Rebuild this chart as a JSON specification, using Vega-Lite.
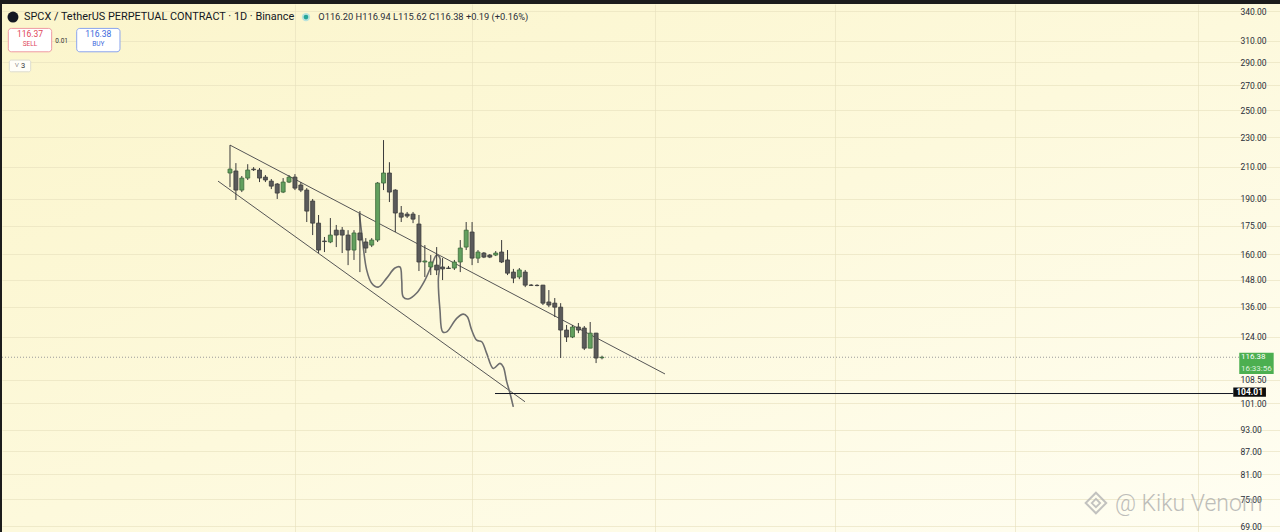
{
  "$schema": "https://vega.github.io/schema/vega-lite/v6.json",
  "width": 1278,
  "height": 528,
  "autosize": {"type": "none"},
  "padding": {"left": 2, "top": 4, "right": 0, "bottom": 0},
  "background": "#1c1c1c",
  "config": {
    "view": {
      "stroke": null,
      "fill": {
        "gradient": "linear", "x1": 0, "y1": 0, "x2": 1, "y2": 1,
        "stops": [
          {"offset": 0, "color": "#fbf5cb"},
          {"offset": 0.5, "color": "#fdf9dc"},
          {"offset": 1, "color": "#fffef3"}
        ]
      }
    },
    "text": {"font": "Roboto"}
  },
  "datasets": {
    "candles": [
      {"i": 0, "o": 205.9, "h": 224.5, "l": 197.1, "c": 208.4},
      {"i": 1, "o": 207.2, "h": 212.3, "l": 189.4, "c": 195.3},
      {"i": 2, "o": 195.3, "h": 204.0, "l": 194.1, "c": 202.7},
      {"i": 3, "o": 202.7, "h": 211.6, "l": 201.5, "c": 207.8},
      {"i": 4, "o": 208.4, "h": 209.7, "l": 207.2, "c": 208.0},
      {"i": 5, "o": 207.8, "h": 209.1, "l": 200.2, "c": 202.7},
      {"i": 6, "o": 203.3, "h": 204.6, "l": 200.2, "c": 201.5},
      {"i": 7, "o": 200.8, "h": 202.1, "l": 195.9, "c": 197.7},
      {"i": 8, "o": 199.0, "h": 199.6, "l": 190.0, "c": 193.5},
      {"i": 9, "o": 194.1, "h": 202.7, "l": 193.5, "c": 200.2},
      {"i": 10, "o": 200.2, "h": 204.6, "l": 199.6, "c": 203.3},
      {"i": 11, "o": 203.3, "h": 205.2, "l": 195.3, "c": 196.5},
      {"i": 12, "o": 198.4, "h": 200.2, "l": 194.1, "c": 195.3},
      {"i": 13, "o": 195.3, "h": 196.5, "l": 176.9, "c": 183.0},
      {"i": 14, "o": 188.8, "h": 190.0, "l": 169.9, "c": 176.3},
      {"i": 15, "o": 176.3, "h": 180.8, "l": 160.7, "c": 162.2},
      {"i": 16, "o": 166.8, "h": 168.9, "l": 161.2, "c": 166.5},
      {"i": 17, "o": 166.3, "h": 179.1, "l": 165.7, "c": 169.9},
      {"i": 18, "o": 172.5, "h": 175.3, "l": 163.7, "c": 169.9},
      {"i": 19, "o": 172.5, "h": 174.2, "l": 160.7, "c": 169.9},
      {"i": 20, "o": 169.9, "h": 172.5, "l": 154.8, "c": 162.2},
      {"i": 21, "o": 162.2, "h": 172.5, "l": 157.3, "c": 171.0},
      {"i": 22, "o": 171.0, "h": 183.0, "l": 151.5, "c": 167.3},
      {"i": 23, "o": 166.3, "h": 168.3, "l": 160.7, "c": 163.2},
      {"i": 24, "o": 164.7, "h": 168.3, "l": 163.7, "c": 167.3},
      {"i": 25, "o": 167.3, "h": 200.2, "l": 166.3, "c": 199.6},
      {"i": 26, "o": 199.6, "h": 228.0, "l": 195.3, "c": 205.9},
      {"i": 27, "o": 205.9, "h": 212.9, "l": 188.2, "c": 194.1},
      {"i": 28, "o": 195.3, "h": 195.8, "l": 171.5, "c": 181.9},
      {"i": 29, "o": 181.9, "h": 185.9, "l": 176.9, "c": 179.6},
      {"i": 30, "o": 181.3, "h": 182.5, "l": 179.1, "c": 180.2},
      {"i": 31, "o": 181.3, "h": 182.5, "l": 176.3, "c": 178.5},
      {"i": 32, "o": 175.8, "h": 180.8, "l": 152.0, "c": 156.3},
      {"i": 33, "o": 156.3, "h": 164.7, "l": 149.2, "c": 156.8},
      {"i": 34, "o": 153.9, "h": 159.7, "l": 150.1, "c": 156.3},
      {"i": 35, "o": 154.8, "h": 163.7, "l": 150.1, "c": 152.5},
      {"i": 36, "o": 153.9, "h": 158.2, "l": 147.8, "c": 153.0},
      {"i": 37, "o": 153.4, "h": 154.4, "l": 153.0, "c": 153.2},
      {"i": 38, "o": 153.4, "h": 157.3, "l": 152.5, "c": 156.3},
      {"i": 39, "o": 156.3, "h": 167.3, "l": 151.5, "c": 163.2},
      {"i": 40, "o": 163.7, "h": 176.9, "l": 162.2, "c": 172.5},
      {"i": 41, "o": 171.5, "h": 176.9, "l": 154.8, "c": 158.2},
      {"i": 42, "o": 158.2, "h": 162.2, "l": 155.8, "c": 161.2},
      {"i": 43, "o": 160.7, "h": 161.2, "l": 158.2, "c": 158.7},
      {"i": 44, "o": 159.7, "h": 160.2, "l": 158.2, "c": 158.7},
      {"i": 45, "o": 159.7, "h": 161.7, "l": 159.2, "c": 160.7},
      {"i": 46, "o": 161.2, "h": 167.3, "l": 155.8, "c": 156.3},
      {"i": 47, "o": 157.3, "h": 162.2, "l": 150.1, "c": 151.0},
      {"i": 48, "o": 151.5, "h": 153.0, "l": 146.4, "c": 148.7},
      {"i": 49, "o": 149.2, "h": 153.4, "l": 148.2, "c": 152.5},
      {"i": 50, "o": 151.5, "h": 152.5, "l": 144.6, "c": 145.5},
      {"i": 51, "o": 145.5, "h": 146.0, "l": 145.1, "c": 145.4},
      {"i": 52, "o": 145.4, "h": 145.9, "l": 145.0, "c": 145.3},
      {"i": 53, "o": 145.5, "h": 145.6, "l": 136.8, "c": 137.6},
      {"i": 54, "o": 138.1, "h": 143.3, "l": 135.9, "c": 136.8},
      {"i": 55, "o": 137.6, "h": 139.8, "l": 131.8, "c": 135.9},
      {"i": 56, "o": 135.9, "h": 137.6, "l": 116.1, "c": 126.6},
      {"i": 57, "o": 126.6, "h": 128.6, "l": 122.0, "c": 123.9},
      {"i": 58, "o": 123.9, "h": 128.6, "l": 123.5, "c": 127.8},
      {"i": 59, "o": 127.8, "h": 129.4, "l": 125.4, "c": 126.6},
      {"i": 60, "o": 127.4, "h": 128.2, "l": 119.0, "c": 119.7},
      {"i": 61, "o": 119.7, "h": 129.8, "l": 119.7, "c": 125.4},
      {"i": 62, "o": 125.4, "h": 125.5, "l": 114.3, "c": 116.1},
      {"i": 63, "o": 116.2, "h": 116.94, "l": 115.62, "c": 116.38}
    ],
    "trend": [
      {"line": "upper", "i": 0, "p": 224.5},
      {"line": "upper", "i": 73.67, "p": 110.5},
      {"line": "lower", "i": -2.03, "p": 200.8},
      {"line": "lower", "i": 49.96, "p": 101.4}
    ],
    "curve": [
      {"k": 0, "i": 21.9, "p": 181.7},
      {"k": 1, "i": 22.3, "p": 171.0},
      {"k": 2, "i": 23.15, "p": 152.5},
      {"k": 3, "i": 24.0, "p": 146.4},
      {"k": 4, "i": 25.11, "p": 144.6},
      {"k": 5, "i": 26.54, "p": 148.7},
      {"k": 6, "i": 27.94, "p": 153.4},
      {"k": 7, "i": 28.79, "p": 153.9},
      {"k": 8, "i": 29.08, "p": 147.8},
      {"k": 9, "i": 29.35, "p": 140.2},
      {"k": 10, "i": 30.19, "p": 139.4},
      {"k": 11, "i": 31.62, "p": 142.0},
      {"k": 12, "i": 33.02, "p": 147.8},
      {"k": 13, "i": 34.16, "p": 154.8},
      {"k": 14, "i": 35.0, "p": 159.7},
      {"k": 15, "i": 35.56, "p": 158.2},
      {"k": 16, "i": 35.28, "p": 147.8},
      {"k": 17, "i": 35.56, "p": 134.7},
      {"k": 18, "i": 36.02, "p": 125.9},
      {"k": 19, "i": 36.7, "p": 125.9},
      {"k": 20, "i": 38.39, "p": 131.3},
      {"k": 21, "i": 39.51, "p": 133.0},
      {"k": 22, "i": 40.19, "p": 131.9},
      {"k": 23, "i": 40.93, "p": 126.6},
      {"k": 24, "i": 41.78, "p": 122.7},
      {"k": 25, "i": 42.63, "p": 122.1},
      {"k": 26, "i": 43.47, "p": 117.8},
      {"k": 27, "i": 44.59, "p": 112.4},
      {"k": 28, "i": 45.72, "p": 114.2},
      {"k": 29, "i": 46.28, "p": 113.0},
      {"k": 30, "i": 46.86, "p": 107.9},
      {"k": 31, "i": 47.42, "p": 104.1},
      {"k": 32, "i": 47.98, "p": 99.8}
    ],
    "one": [{"n": 1}]
  },
  "layer": [
    {
      "data": {"name": "trend"},
      "mark": {"type": "line", "color": "#555555", "strokeWidth": 1},
      "encoding": {
        "x": {
          "field": "i", "type": "quantitative",
          "scale": {"domain": [-38.61, 177.82], "nice": false, "zero": false, "padding": 0},
          "axis": {
            "title": null, "orient": "bottom", "labels": false, "ticks": false, "domain": false,
            "grid": true, "values": [11, 41, 72, 102.5, 133, 164],
            "gridColor": "#e6e0bd", "gridOpacity": 0.6
          }
        },
        "y": {
          "field": "p", "type": "quantitative",
          "scale": {"type": "log", "domain": [67.74, 347.5], "nice": false, "zero": false, "padding": 0},
          "axis": {
            "title": null, "orient": "right", "offset": -48,
            "values": [340, 310, 290, 270, 250, 230, 210, 190, 175, 160, 148, 136, 124, 108.5, 101, 93, 87, 81, 75, 69],
            "format": ".2f", "labelFont": "Roboto", "labelFontSize": 8.5, "labelColor": "#2a2e39",
            "labelPadding": 8, "labelAlign": "left", "labelBaseline": "middle",
            "ticks": false, "domain": false, "grid": true,
            "gridColor": "#e6e0bd", "gridOpacity": 0.6
          }
        },
        "detail": {"field": "line", "type": "nominal"}
      }
    },
    {
      "data": {"name": "curve"},
      "mark": {"type": "line", "color": "#6e6e6e", "strokeWidth": 1.6, "interpolate": "catmull-rom"},
      "encoding": {
        "x": {"field": "i", "type": "quantitative"},
        "y": {"field": "p", "type": "quantitative"},
        "order": {"field": "k", "type": "quantitative"}
      }
    },
    {
      "data": {"name": "one"},
      "mark": {"type": "rule", "color": "#9a9a9a", "strokeDash": [1, 2], "strokeWidth": 1},
      "encoding": {
        "x": {"datum": -38.61, "type": "quantitative"},
        "x2": {"datum": 170.9},
        "y": {"datum": 116.38, "type": "quantitative"}
      }
    },
    {
      "data": {"name": "one"},
      "mark": {"type": "rule", "color": "#131722", "strokeWidth": 1},
      "encoding": {
        "x": {"datum": 44.88, "type": "quantitative"},
        "x2": {"datum": 169.91},
        "y": {"datum": 104.01, "type": "quantitative"}
      }
    },
    {
      "data": {"name": "candles"},
      "mark": {"type": "rule", "color": "#3a3a3a", "strokeWidth": 1},
      "encoding": {
        "x": {"field": "i", "type": "quantitative"},
        "y": {"field": "l", "type": "quantitative"},
        "y2": {"field": "h"}
      }
    },
    {
      "data": {"name": "candles"},
      "mark": {"type": "bar", "size": 4, "strokeWidth": 0.8},
      "encoding": {
        "x": {"field": "i", "type": "quantitative"},
        "y": {"field": "o", "type": "quantitative"},
        "y2": {"field": "c"},
        "fill": {"condition": {"test": "datum.c >= datum.o", "value": "#62a05e"}, "value": "#5a5a5a"},
        "stroke": {"condition": {"test": "datum.c >= datum.o", "value": "#3e6a3b"}, "value": "#3c3c3c"}
      }
    },
    {
      "data": {"name": "one"},
      "mark": {"type": "point", "shape": "circle", "filled": true, "size": 120, "color": "#131722", "opacity": 1},
      "encoding": {"x": {"datum": -36.75, "type": "quantitative"}, "y": {"datum": 333.7, "type": "quantitative"}}
    },
    {
      "data": {"name": "one"},
      "mark": {"type": "text", "text": "SPCX / TetherUS PERPETUAL CONTRACT · 1D · Binance", "align": "left", "baseline": "middle", "fontSize": 10.9, "color": "#131722"},
      "encoding": {"x": {"datum": -34.89, "type": "quantitative"}, "y": {"datum": 333.7, "type": "quantitative"}}
    },
    {
      "data": {"name": "one"},
      "mark": {"type": "point", "shape": "circle", "filled": true, "size": 70, "color": "#b9e3dd", "opacity": 1},
      "encoding": {"x": {"datum": 12.87, "type": "quantitative"}, "y": {"datum": 333.7, "type": "quantitative"}}
    },
    {
      "data": {"name": "one"},
      "mark": {"type": "point", "shape": "circle", "filled": true, "size": 22, "color": "#26a69a", "opacity": 1},
      "encoding": {"x": {"datum": 12.87, "type": "quantitative"}, "y": {"datum": 333.7, "type": "quantitative"}}
    },
    {
      "data": {"name": "one"},
      "mark": {"type": "text", "text": "O116.20 H116.94 L115.62 C116.38 +0.19 (+0.16%)", "align": "left", "baseline": "middle", "fontSize": 9.3, "color": "#2a2e39"},
      "encoding": {"x": {"datum": 14.95, "type": "quantitative"}, "y": {"datum": 333.7, "type": "quantitative"}}
    },
    {
      "data": {"name": "one"},
      "mark": {"type": "rect", "fill": "#ffffff", "stroke": "#ef9aa3", "strokeWidth": 1, "cornerRadius": 3},
      "encoding": {"x": {"datum": -37.54, "type": "quantitative"}, "x2": {"datum": -30.2}, "y": {"datum": 322.2, "type": "quantitative"}, "y2": {"datum": 299.7}}
    },
    {
      "data": {"name": "one"},
      "mark": {"type": "rect", "fill": "#ffffff", "stroke": "#8aa4ee", "strokeWidth": 1, "cornerRadius": 3},
      "encoding": {"x": {"datum": -25.96, "type": "quantitative"}, "x2": {"datum": -18.63}, "y": {"datum": 322.2, "type": "quantitative"}, "y2": {"datum": 299.7}}
    },
    {
      "data": {"name": "one"},
      "mark": {"type": "text", "text": "116.37", "align": "center", "baseline": "middle", "fontSize": 8.5, "color": "#e0465a"},
      "encoding": {"x": {"datum": -33.87, "type": "quantitative"}, "y": {"datum": 316.3, "type": "quantitative"}}
    },
    {
      "data": {"name": "one"},
      "mark": {"type": "text", "text": "SELL", "align": "center", "baseline": "middle", "fontSize": 6.5, "color": "#e0465a"},
      "encoding": {"x": {"datum": -33.87, "type": "quantitative"}, "y": {"datum": 306.7, "type": "quantitative"}}
    },
    {
      "data": {"name": "one"},
      "mark": {"type": "text", "text": "0.01", "align": "center", "baseline": "middle", "fontSize": 6.5, "color": "#333333"},
      "encoding": {"x": {"datum": -28.5, "type": "quantitative"}, "y": {"datum": 309.8, "type": "quantitative"}}
    },
    {
      "data": {"name": "one"},
      "mark": {"type": "text", "text": "116.38", "align": "center", "baseline": "middle", "fontSize": 8.5, "color": "#3b68dc"},
      "encoding": {"x": {"datum": -22.3, "type": "quantitative"}, "y": {"datum": 316.3, "type": "quantitative"}}
    },
    {
      "data": {"name": "one"},
      "mark": {"type": "text", "text": "BUY", "align": "center", "baseline": "middle", "fontSize": 6.5, "color": "#3b68dc"},
      "encoding": {"x": {"datum": -22.3, "type": "quantitative"}, "y": {"datum": 306.7, "type": "quantitative"}}
    },
    {
      "data": {"name": "one"},
      "mark": {"type": "rect", "fill": "#fffef8", "stroke": "#dcdcd0", "strokeWidth": 1, "cornerRadius": 2},
      "encoding": {"x": {"datum": -37.37, "type": "quantitative"}, "x2": {"datum": -33.75}, "y": {"datum": 292.1, "type": "quantitative"}, "y2": {"datum": 281.7}}
    },
    {
      "data": {"name": "one"},
      "mark": {"type": "text", "text": "˅ 3", "align": "center", "baseline": "middle", "fontSize": 7.5, "color": "#333333"},
      "encoding": {"x": {"datum": -35.56, "type": "quantitative"}, "y": {"datum": 286.9, "type": "quantitative"}}
    },
    {
      "data": {"name": "one"},
      "mark": {"type": "rect", "fill": "#4caf50"},
      "encoding": {"x": {"datum": 170.92, "type": "quantitative"}, "x2": {"datum": 176.75}, "y": {"datum": 118.0, "type": "quantitative"}, "y2": {"datum": 110.5}}
    },
    {
      "data": {"name": "one"},
      "mark": {"type": "text", "text": "116.38", "align": "left", "baseline": "middle", "fontSize": 8, "color": "#ffffff"},
      "encoding": {"x": {"datum": 171.2, "type": "quantitative"}, "y": {"datum": 116.38, "type": "quantitative"}}
    },
    {
      "data": {"name": "one"},
      "mark": {"type": "text", "text": "16:33:56", "align": "left", "baseline": "middle", "fontSize": 8, "color": "#dff2df"},
      "encoding": {"x": {"datum": 171.2, "type": "quantitative"}, "y": {"datum": 112.1, "type": "quantitative"}}
    },
    {
      "data": {"name": "one"},
      "mark": {"type": "rect", "fill": "#0d0d0d"},
      "encoding": {"x": {"datum": 169.91, "type": "quantitative"}, "x2": {"datum": 175.44}, "y": {"datum": 106.0, "type": "quantitative"}, "y2": {"datum": 103.0}}
    },
    {
      "data": {"name": "one"},
      "mark": {"type": "text", "text": "104.01", "align": "left", "baseline": "middle", "fontSize": 8.5, "fontWeight": "bold", "color": "#ffffff"},
      "encoding": {"x": {"datum": 170.4, "type": "quantitative"}, "y": {"datum": 104.4, "type": "quantitative"}}
    },
    {
      "data": {"name": "one"},
      "mark": {"type": "point", "shape": "diamond", "filled": false, "size": 420, "strokeWidth": 2, "color": "#b4b4b4", "opacity": 0.8},
      "encoding": {"x": {"datum": 146.65, "type": "quantitative"}, "y": {"datum": 74.1, "type": "quantitative"}}
    },
    {
      "data": {"name": "one"},
      "mark": {"type": "point", "shape": "diamond", "filled": false, "size": 70, "strokeWidth": 1.8, "color": "#b4b4b4", "opacity": 0.8},
      "encoding": {"x": {"datum": 146.65, "type": "quantitative"}, "y": {"datum": 74.1, "type": "quantitative"}}
    },
    {
      "data": {"name": "one"},
      "mark": {"type": "text", "text": "@ Kiku Venom", "align": "left", "baseline": "middle", "fontSize": 23, "fontWeight": 300, "letterSpacing": 1.2, "color": "#a8a8a8", "opacity": 0.75},
      "encoding": {"x": {"datum": 149.87, "type": "quantitative"}, "y": {"datum": 73.86, "type": "quantitative"}}
    }
  ]
}
